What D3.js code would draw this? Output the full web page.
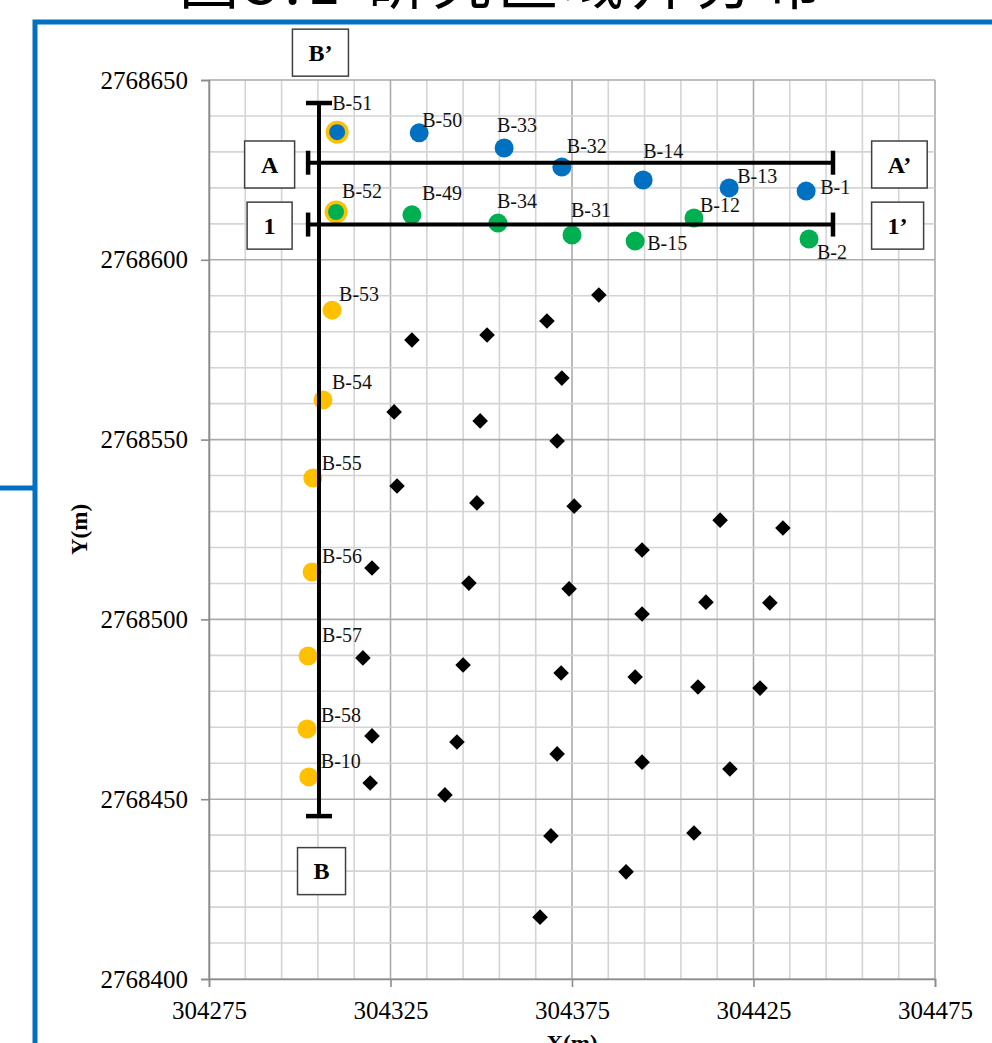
<!DOCTYPE html>
<html>
<head>
<meta charset="utf-8">
<script src="https://cdn.jsdelivr.net/npm/d3@7"></script>
<style>
  html, body { margin: 0; padding: 0; background: #fff; }
  svg { display: block; }
</style>
</head>
<body>
<svg id="chart" width="992" height="1043"></svg>
<script>
// ---------------- DATA ----------------
const titleText = "图3.1 研究区域井分布";
const xTitle = "X(m)";
const yTitle = "Y(m)";

const xTickValues = [304275, 304325, 304375, 304425, 304475];
const yTickValues = [2768400, 2768450, 2768500, 2768550, 2768600, 2768650];

// Section A-A' wells (blue)
const blueNames = ["B-51", "B-50", "B-33", "B-32", "B-14", "B-13", "B-1"];
const blueX = [304310.3, 304332.9, 304356.3, 304372.2, 304394.6, 304418.3, 304439.5];
const blueY = [2768635.5, 2768635.3, 2768631.1, 2768625.8, 2768622.2, 2768620.0, 2768619.1];

// Section 1-1' wells (green)
const greenNames = ["B-52", "B-49", "B-34", "B-31", "B-15", "B-12", "B-2"];
const greenX = [304310.0, 304330.9, 304354.6, 304375.0, 304392.4, 304408.6, 304440.3];
const greenY = [2768613.3, 2768612.5, 2768610.2, 2768606.9, 2768605.2, 2768611.6, 2768605.8];

// Section B-B' wells (orange)
const orangeNames = ["B-51", "B-52", "B-53", "B-54", "B-55", "B-56", "B-57", "B-58", "B-10"];
const orangeX = [304310.3, 304310.0, 304308.9, 304306.4, 304303.6, 304303.4, 304302.3, 304302.0, 304302.5];
const orangeY = [2768635.5, 2768613.3, 2768586.0, 2768561.0, 2768539.3, 2768513.2, 2768489.8, 2768469.5, 2768456.2];

// Other wells (black diamonds)
const otherX = [304382.4, 304368.1, 304330.9, 304351.6, 304372.2, 304326.0, 304349.7, 304370.9,
  304326.8, 304348.8, 304375.6, 304415.8, 304433.1, 304394.3, 304319.9, 304346.6, 304374.2,
  304411.9, 304429.5, 304394.3, 304317.4, 304345.0, 304372.0, 304392.4, 304409.7, 304426.8,
  304319.9, 304343.3, 304370.9, 304394.3, 304418.5, 304319.4, 304340.0, 304369.2, 304408.6,
  304389.9, 304366.2];
const otherY = [2768590.2, 2768583.0, 2768577.7, 2768579.1, 2768567.1, 2768557.7, 2768555.2, 2768549.6,
  2768537.1, 2768532.4, 2768531.5, 2768527.6, 2768525.4, 2768519.3, 2768514.3, 2768510.1, 2768508.5,
  2768504.8, 2768504.6, 2768501.5, 2768489.3, 2768487.3, 2768485.1, 2768484.0, 2768481.2, 2768480.9,
  2768467.6, 2768465.9, 2768462.6, 2768460.3, 2768458.4, 2768454.5, 2768451.2, 2768439.8, 2768440.6,
  2768429.8, 2768417.2];

// Section lines (data coordinates)
const sectionNames = ["B", "A", "1"];
const sectionX1 = [304305.3, 304302.3, 304302.3];
const sectionY1 = [2768643.6, 2768627.0, 2768609.8];
const sectionX2 = [304305.3, 304446.9, 304446.9];
const sectionY2 = [2768445.3, 2768627.0, 2768609.8];

// Section end label boxes (data coordinates of box centres)
const boxLabels = ["B\u2019", "A", "1", "A\u2019", "1\u2019", "B"];
const boxX = [304305.7, 304291.7, 304291.7, 304465.2, 304464.7, 304306.0];
const boxY = [2768657.6, 2768626.5, 2768609.5, 2768626.5, 2768609.5, 2768430.0];

// ---------------- LAYOUT (label offsets in px, not data) ----------------
const labelOffset = {
  "B-51": [-5, -22], "B-50": [3, -6], "B-33": [-7, -16], "B-32": [5, -14],
  "B-14": [0, -22], "B-13": [8, -5], "B-1": [14, 3],
  "B-52": [6, -14], "B-49": [10, -15], "B-34": [-1, -15], "B-31": [-1, -18],
  "B-15": [12, 9], "B-12": [6, -6], "B-2": [8, 20],
  "B-53": [7, -9], "B-54": [9, -11], "B-55": [9, -8], "B-56": [10, -9],
  "B-57": [14, -14], "B-58": [14, -7], "B-10": [12, -9]
};

// ---------------- DRAW ----------------
const svg = d3.select("#chart");
const W = 992, H = 1043;
const blue = "#0070C0", green = "#00B050", orange = "#FFC000";
const serif = "'Liberation Serif', 'Times New Roman', serif";

const x = d3.scaleLinear().domain([304275, 304475]).range([209, 935]);
const y = d3.scaleLinear().domain([2768400, 2768650]).range([979, 80]);

// Title (cropped at top)
svg.append("text")
  .attr("x", 179).attr("y", 4)
  .attr("font-family", "'Noto Sans CJK SC', sans-serif")
  .attr("font-size", 60)
  .attr("letter-spacing", 6)
  .attr("fill", "#000")
  .text(titleText);

// Blue frame
svg.append("path")
  .attr("d", `M35,${H + 10} L35,22 L${W + 10},22`)
  .attr("fill", "none").attr("stroke", blue).attr("stroke-width", 5);
svg.append("line")
  .attr("x1", 0).attr("x2", 35).attr("y1", 488).attr("y2", 488)
  .attr("stroke", blue).attr("stroke-width", 5);

// Grid
const minorX = d3.range(304275, 304476, 10);
const minorY = d3.range(2768400, 2768651, 10);
const grid = svg.append("g");
grid.selectAll(".vx").data(minorX).join("line")
  .attr("x1", d => x(d)).attr("x2", d => x(d))
  .attr("y1", y(2768650)).attr("y2", y(2768400))
  .attr("stroke", d => (d - 304275) % 50 === 0 ? "#ababab" : "#d4d4d4")
  .attr("stroke-width", 1.6);
grid.selectAll(".hy").data(minorY).join("line")
  .attr("x1", x(304275)).attr("x2", x(304475))
  .attr("y1", d => y(d)).attr("y2", d => y(d))
  .attr("stroke", d => (d - 2768400) % 50 === 0 ? "#ababab" : "#d4d4d4")
  .attr("stroke-width", 1.6);

// Axes
const yAxis = svg.append("g").attr("transform", `translate(${x(304275)},0)`)
  .call(d3.axisLeft(y).tickValues(yTickValues).tickFormat(d3.format("d")).tickSize(8).tickPadding(13));
const xAxis = svg.append("g").attr("transform", `translate(0,${y(2768400)})`)
  .call(d3.axisBottom(x).tickValues(xTickValues).tickFormat(d3.format("d")).tickSize(8).tickPadding(14));
[xAxis, yAxis].forEach(a => {
  a.select(".domain").attr("stroke", "#8c8c8c").attr("stroke-width", 1.6);
  a.selectAll(".tick line").attr("stroke", "#8c8c8c").attr("stroke-width", 1.6);
  a.selectAll(".tick text").attr("font-family", serif).attr("font-size", 25).attr("fill", "#000");
});

// Axis titles
svg.append("text")
  .attr("transform", `translate(87,${(y(2768650) + y(2768400)) / 2}) rotate(-90)`)
  .attr("text-anchor", "middle")
  .attr("font-family", serif).attr("font-weight", "bold").attr("font-size", 23)
  .text(yTitle);
svg.append("text")
  .attr("x", (x(304275) + x(304475)) / 2).attr("y", 1051)
  .attr("text-anchor", "middle")
  .attr("font-family", serif).attr("font-weight", "bold").attr("font-size", 23)
  .text(xTitle);

// Points
const orangeSet = new Set(orangeNames);
const mk = (names, xs, ys) => names.map((n, i) => ({ name: n, x: xs[i], y: ys[i] }));
const bluePts = mk(blueNames, blueX, blueY);
const greenPts = mk(greenNames, greenX, greenY);
const orangePts = mk(orangeNames, orangeX, orangeY);
const otherPts = otherX.map((v, i) => ({ x: v, y: otherY[i] }));

const bothSet = new Set([...blueNames, ...greenNames]);

svg.append("g").selectAll("circle").data(orangePts).join("circle")
  .attr("cx", d => x(d.x)).attr("cy", d => y(d.y))
  .attr("r", d => bothSet.has(d.name) ? 11.5 : 9.5)
  .attr("fill", orange);
svg.append("g").selectAll("circle").data(bluePts).join("circle")
  .attr("cx", d => x(d.x)).attr("cy", d => y(d.y))
  .attr("r", d => orangeSet.has(d.name) ? 8 : 9.5)
  .attr("fill", blue);
svg.append("g").selectAll("circle").data(greenPts).join("circle")
  .attr("cx", d => x(d.x)).attr("cy", d => y(d.y))
  .attr("r", d => orangeSet.has(d.name) ? 8 : 9.5)
  .attr("fill", green);

const diamond = "M0,-7.8L7.8,0L0,7.8L-7.8,0Z";
svg.append("g").selectAll("path").data(otherPts).join("path")
  .attr("d", diamond)
  .attr("transform", d => `translate(${x(d.x)},${y(d.y)})`)
  .attr("fill", "#000");

// Section lines with end caps
const capHalf = 12;
const secG = svg.append("g");
sectionNames.forEach((n, i) => {
  const x1 = x(sectionX1[i]), y1 = y(sectionY1[i]), x2 = x(sectionX2[i]), y2 = y(sectionY2[i]);
  secG.append("line").attr("x1", x1).attr("y1", y1).attr("x2", x2).attr("y2", y2)
    .attr("stroke", "#000").attr("stroke-width", 4);
  const vertical = Math.abs(x1 - x2) < 1;
  [[x1, y1], [x2, y2]].forEach(([cx, cy]) => {
    if (vertical) {
      secG.append("line").attr("x1", cx - capHalf - 1).attr("x2", cx + capHalf + 1)
        .attr("y1", cy).attr("y2", cy).attr("stroke", "#000").attr("stroke-width", 4.5);
    } else {
      secG.append("line").attr("x1", cx).attr("x2", cx)
        .attr("y1", cy - capHalf).attr("y2", cy + capHalf).attr("stroke", "#000").attr("stroke-width", 4.5);
    }
  });
});

// Point labels
const allLabelled = [...orangePts.filter(d => !bothSet.has(d.name)), ...bluePts, ...greenPts];
svg.append("g").selectAll("text").data(allLabelled).join("text")
  .attr("x", d => x(d.x) + (labelOffset[d.name] || [6, -8])[0])
  .attr("y", d => y(d.y) + (labelOffset[d.name] || [6, -8])[1])
  .attr("font-family", serif).attr("font-size", 20).attr("fill", "#111")
  .text(d => d.name);

// Boxes
const boxG = svg.append("g");
boxLabels.forEach((t, i) => {
  const cx = x(boxX[i]), cy = y(boxY[i]);
  const g = boxG.append("g");
  const rect = g.append("rect").attr("fill", "#fff").attr("stroke", "#404040").attr("stroke-width", 1.5);
  const txt = g.append("text").attr("x", cx).attr("y", cy + 8)
    .attr("text-anchor", "middle")
    .attr("font-family", serif).attr("font-weight", "bold").attr("font-size", 24)
    .text(t);
  const bb = txt.node().getBBox();
  const w = Math.max(45, bb.width + 32), h = 47;
  rect.attr("x", cx - w / 2).attr("y", cy - h / 2).attr("width", w).attr("height", h);
});
</script>
</body>
</html>
